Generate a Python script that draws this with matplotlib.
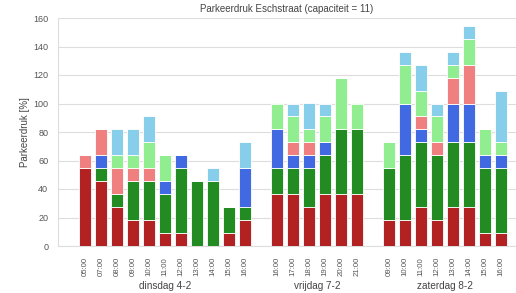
import numpy as np
import matplotlib
matplotlib.use("Agg")
import matplotlib.pyplot as plt

capacity = 11
days = ["dinsdag 4-2", "vrijdag 7-2", "zaterdag 8-2"]
times_di = ["05:00", "07:00", "08:00", "09:00", "10:00", "11:00", "12:00", "13:00", "14:00", "15:00", "16:00"]
times_vr = ["16:00", "17:00", "18:00", "19:00", "20:00", "21:00"]
times_za = ["09:00", "10:00", "11:00", "12:00", "13:00", "14:00", "15:00", "16:00"]

# parked cars per category (stacked bottom -> top)
cat1 = [6, 5, 3, 2, 2, 1, 1, 0, 0, 1, 2,   4, 4, 3, 4, 4, 4,   2, 2, 3, 2, 3, 3, 1, 1]
cat2 = [0, 1, 1, 3, 3, 3, 5, 5, 5, 2, 1,   2, 2, 3, 3, 5, 5,   4, 5, 5, 5, 5, 5, 5, 5]
cat3 = [0, 1, 0, 0, 0, 1, 1, 0, 0, 0, 3,   3, 1, 1, 1, 0, 0,   0, 4, 1, 0, 3, 3, 1, 1]
cat4 = [1, 2, 2, 1, 1, 0, 0, 0, 0, 0, 0,   0, 1, 1, 0, 0, 0,   0, 0, 1, 1, 2, 3, 0, 0]
cat5 = [0, 0, 1, 1, 2, 2, 0, 0, 0, 0, 0,   2, 2, 1, 2, 4, 2,   2, 3, 2, 2, 1, 2, 2, 1]
cat6 = [0, 0, 2, 2, 2, 0, 0, 0, 1, 0, 2,   0, 1, 2, 1, 0, 0,   0, 1, 2, 1, 1, 1, 0, 4]

colors = ["#B22222", "#228B22", "#4169E1", "#F08080", "#90EE90", "#87CEEB"]

plt.rcParams['font.family'] = ['Liberation Sans', 'DejaVu Sans']

groups = [times_di, times_vr, times_za]
positions = []
labels = []
start = 0
centers = []
for g in groups:
    pos = list(range(start, start + len(g)))
    positions += pos
    labels += g
    centers.append((pos[0] + pos[-1]) / 2)
    start = pos[-1] + 2
positions = np.array(positions, dtype=float)

fig = plt.figure(figsize=(5.16, 2.93), dpi=100)
ax = fig.add_axes([58/516, 47/293, 458/516, 228/293])

bottom = np.zeros(len(positions))
for series, c in zip([cat1, cat2, cat3, cat4, cat5, cat6], colors):
    vals = np.array(series, dtype=float) / capacity * 100
    ax.bar(positions, vals, width=0.75, bottom=bottom, color=c,
           edgecolor="white", linewidth=0.6, zorder=3)
    bottom += vals

ax.set_xlim(-27/16, -27/16 + 458/16)
ax.set_ylim(0, 160)
ax.set_yticks(np.arange(0, 161, 20))
ax.yaxis.grid(True, color="#dddddd", linewidth=0.8, zorder=0)
ax.set_axisbelow(True)
for s in ["top", "right"]:
    ax.spines[s].set_visible(False)
for s in ["left", "bottom"]:
    ax.spines[s].set_color("#dddddd")
    ax.spines[s].set_linewidth(0.8)

ax.set_xticks(positions)
ax.set_xticklabels(labels, rotation=90, fontsize=5.6, color="#555555")
ax.tick_params(axis="x", length=0, pad=8)
ax.tick_params(axis="y", length=0, pad=7, labelsize=6.5, labelcolor="#555555")
ax.set_ylabel("Parkeerdruk [%]", fontsize=7, color="#444444", labelpad=2)
ax.set_title("Parkeerdruk Eschstraat (capaciteit = 11)", fontsize=7, color="#444444", pad=4)

for d, cx in zip(days, centers):
    xf = (58 + (cx + 27/16) * 16) / 516
    fig.text(xf, 7/293, d, ha="center", va="center", fontsize=7.2, color="#444444")

fig.savefig("out.png", dpi=100)
